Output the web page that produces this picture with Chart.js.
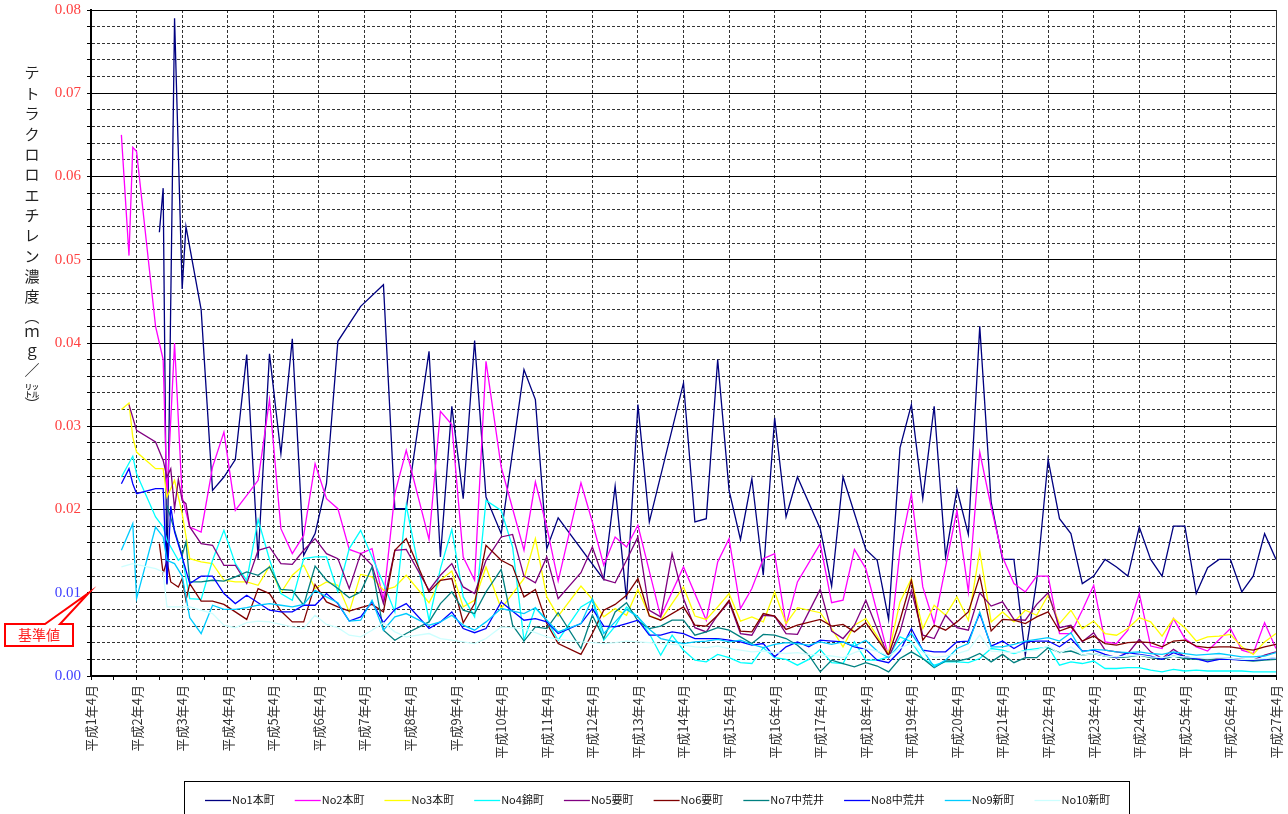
<!DOCTYPE html>
<html lang="ja">
<head>
<meta charset="utf-8">
<title>テトラクロロエチレン濃度の推移</title>
<script src="https://cdn.jsdelivr.net/npm/chart.js@4.4.1/dist/chart.umd.min.js"></script>
<style>
  html, body { margin: 0; padding: 0; background: #fff; }
  #wrap { width: 1288px; height: 814px; }
</style>
</head>
<body>
<div id="wrap"><canvas id="chart" width="1288" height="814"></canvas></div>
<script>
// sampling dates, in months counted from 平成1年4月
const sampleMonths = [
  8, 10, 11, 12, 17, 18, 19, 20, 21, 22, 23, 24, 25,
  26, 29, 32, 35, 38, 41, 44, 47, 50, 53, 56, 59, 62, 65, 68, 71, 74, 77, 80, 83, 86, 89, 92, 95, 98, 101, 104,
  108, 111, 114, 117, 120, 123, 126, 129, 132, 135, 138, 141, 144, 147, 150, 153, 156, 159, 162, 165, 168,
  171, 174, 177, 180, 183, 186, 189, 192, 195, 198, 201, 204, 207, 210, 213, 216, 219, 222, 225, 228, 231,
  234, 237, 240, 243, 246, 249, 252, 255, 258, 261, 264, 267, 270, 273, 276, 279, 282, 285, 288, 291, 294,
  297, 300, 303, 306, 309, 312
];

// mg/L per well, aligned with sampleMonths (null = not sampled)
const no1 = [
  null, null, null, null, null, 0.0533, 0.0586, 0.011, null, 0.079, null, 0.0465, 0.054,
  null, 0.044, 0.0223, 0.0239, 0.026, 0.0386, 0.0141, 0.0387, 0.0267, 0.0405, 0.0145, 0.0171, 0.0231, 0.0402, null,
  0.0444, null, 0.047, 0.0201, 0.0201, null, 0.039, 0.0143, 0.0324, 0.0213, 0.0403, 0.0215,
  0.0171, null, 0.0368, 0.0332, 0.0153, 0.019, null, null, null, 0.0116, 0.0228, 0.0092, 0.0326, 0.0185, null,
  null, 0.0352, 0.0185, 0.0189, 0.038, 0.0223, 0.0164, 0.0237, 0.0121, 0.031, 0.0191, 0.0239, null, 0.0177,
  0.0108, 0.0239, null, 0.0152, 0.0139, 0.0068, 0.0274, 0.0326, 0.0213, 0.0324, 0.0143, 0.0224, 0.017, 0.042,
  0.0209, 0.014, 0.014, 0.0025, 0.0115, 0.026, 0.0189, 0.0171, 0.0111, 0.012, 0.014, 0.0131, 0.012, 0.0179,
  0.014, 0.012, 0.018, 0.018, 0.0099, 0.013, 0.014, 0.014, 0.0101, 0.012, 0.0171, 0.014
];
const no2 = [
  0.065, 0.0505, 0.0635, 0.063, 0.042, 0.040, 0.038, 0.0215, null, 0.040, null, 0.0215, null,
  0.0179, 0.0173, 0.0251, 0.0293, 0.0199, null, 0.0235, 0.0332, 0.0177, 0.0147, 0.0169, 0.0255, 0.0213, 0.0201,
  0.0152, 0.0147, 0.0153, 0.0091, 0.0219, 0.0271, null, 0.0164, 0.0318, 0.0302, 0.0143, 0.0115, 0.0378,
  0.0251, null, 0.0151, 0.0233, 0.0179, 0.0114, null, 0.0232, 0.0185, 0.0133, 0.0167, 0.0155, 0.0181, null,
  0.0071, null, 0.0131, null, 0.0067, 0.0137, 0.0165, 0.0081, 0.0105, 0.0141, 0.0147, 0.0061, 0.0113, null,
  0.0159, 0.0088, 0.0091, 0.0152, 0.0129, null, 0.0023, 0.0151, 0.0219, 0.0107, 0.0063, 0.0131, 0.0199, 0.0101,
  0.0269, 0.0203, 0.0143, 0.0111, 0.0101, 0.012, 0.012, 0.0051, 0.0051, 0.0079, 0.0109, 0.0041, 0.0039, 0.0055,
  0.0099, 0.0036, 0.0033, 0.0069, 0.0045, 0.0035, 0.003, null, 0.0057, 0.0031, 0.0027, 0.0064, 0.0033
];
const no3 = [
  0.032, 0.0328, 0.0287, 0.0269, 0.0249, null, 0.0249, 0.0215, null, 0.0235, null, 0.0195, null,
  0.0141, 0.0137, 0.0135, 0.0115, 0.0113, 0.0113, 0.0109, 0.0132, 0.01, 0.0121, 0.0133, 0.0105, 0.0113, 0.0109,
  0.0077, 0.0122, 0.0119, 0.0103, 0.0107, 0.0121, null, 0.0088, 0.0115, 0.0126, 0.0083, 0.0091, 0.0131,
  0.0081, null, 0.0117, 0.0165, 0.0095, 0.0072, null, 0.0108, 0.0092, 0.0071, 0.0081, 0.0073, 0.0104, 0.0073,
  0.0067, null, 0.0107, 0.0072, 0.0068, 0.0083, 0.0099, 0.0066, 0.0071, 0.0065, 0.0101, 0.0063, 0.0082, null,
  0.0076, 0.0057, 0.0035, 0.0061, 0.0069, null, 0.0027, 0.0089, 0.0117, 0.0057, 0.0085, 0.0073, 0.0095, 0.0067,
  0.015, 0.0065, 0.0077, 0.0065, 0.0079, 0.0073, 0.0097, 0.0063, 0.0079, 0.0057, 0.0066, 0.0051, 0.0049, 0.0057,
  0.007, 0.0065, 0.0048, 0.0069, 0.0058, 0.0042, 0.0047, 0.0048, 0.005, 0.0035, 0.0026, 0.0041, 0.0051
];
const no4 = [
  0.0239, null, 0.0264, 0.0243, 0.0191, null, 0.0179, 0.0163, null, null, 0.0139, 0.0143, null,
  0.0093, 0.0092, 0.0139, 0.0175, 0.0135, 0.0115, 0.0188, 0.014, 0.0099, 0.0091, 0.0141, 0.0143, 0.0143, 0.0101,
  0.0153, 0.0175, 0.0143, 0.0111, 0.0077, 0.0205, null, 0.0067, 0.0129, 0.0176, 0.0095, 0.0071, 0.0211,
  0.0199, 0.0155, 0.0043, 0.0082, 0.0067, 0.0043, null, 0.0083, 0.0091, 0.0043, 0.006, 0.0083, 0.0071, 0.0051,
  0.0025, 0.0049, 0.0031, 0.0019, 0.0017, 0.0026, 0.0022, 0.0016, 0.0015, 0.0034, 0.0022, 0.002, 0.0013, 0.002,
  0.0032, 0.0016, 0.0015, 0.0041, 0.0019, 0.0019, 0.0023, 0.0047, 0.0041, 0.0021, 0.0013, 0.0017, 0.0017, 0.0016,
  0.0021, 0.0033, 0.0031, 0.0027, 0.0031, 0.0033, 0.0035, 0.0013, 0.0017, 0.0015, 0.0018, 0.0009, 0.0009, 0.001,
  0.001, 0.0007, 0.0005, 0.0008, 0.0006, 0.0007, 0.0006, 0.0006, 0.0006, 0.0006, 0.0005, 0.0005, 0.0005
];
const no5 = [
  null, 0.0326, null, 0.0295, 0.0281, null, 0.0259, 0.0239, 0.0249, 0.0201, 0.0236, 0.0211, 0.0207,
  0.0179, 0.0159, 0.0157, 0.0133, 0.0133, 0.0111, 0.0151, 0.0155, 0.0135, 0.0134, 0.0151, 0.0165, 0.0147, 0.0141,
  0.0105, 0.0147, 0.0133, 0.0087, 0.0151, 0.0152, null, 0.0103, 0.0121, 0.0135, 0.0107, 0.0099, 0.0139,
  0.0167, 0.017, 0.012, 0.0112, 0.0143, 0.0093, null, 0.0124, 0.0155, 0.0116, 0.0112, 0.0139, 0.0167, 0.0079,
  0.0071, 0.0147, 0.0093, 0.0058, 0.0053, 0.0073, 0.0089, 0.0051, 0.0049, 0.0073, 0.0072, 0.0051, 0.005, null,
  0.0104, 0.0054, 0.0045, 0.0061, 0.0091, null, 0.0022, 0.0053, 0.0103, 0.0049, 0.0045, 0.0073, 0.0058, 0.0055,
  0.01, 0.0084, 0.0089, 0.0068, 0.0067, 0.0086, 0.01, 0.0058, 0.0061, 0.0041, 0.0052, 0.0031, 0.0029, 0.0027,
  0.0044, 0.0029, 0.0021, 0.0032, 0.0023, 0.0021, 0.002, 0.0021, 0.0021, 0.002, 0.0019, 0.0025, 0.0029
];
const no6 = [
  null, null, null, null, null, 0.0159, 0.0123, 0.0139, 0.0113, null, 0.0107, 0.0117, 0.0091,
  0.0111, 0.009, 0.009, 0.0086, 0.0077, 0.0068, 0.0105, 0.0099, 0.0078, 0.0065, 0.0065, 0.011, 0.0089, 0.0083,
  0.0078, 0.0082, 0.0086, 0.0077, 0.0151, 0.0165, null, 0.0101, 0.0115, 0.0117, 0.0064, 0.0087, 0.0157,
  0.0139, 0.0132, 0.0095, 0.0104, 0.0063, 0.0039, null, 0.0026, 0.0051, 0.0079, 0.0086, 0.0097, 0.0117, 0.0072,
  0.0067, null, 0.0083, 0.0061, 0.006, 0.0073, 0.0091, 0.0054, 0.0053, 0.0075, 0.0072, 0.0056, 0.0061, null,
  0.0068, 0.006, 0.0062, 0.0053, 0.0064, null, 0.0025, 0.0067, 0.0115, 0.0043, 0.0061, 0.0055, 0.0065, 0.0077,
  0.012, 0.0054, 0.0068, 0.0067, 0.0063, 0.0071, 0.0077, 0.0054, 0.0059, 0.0042, 0.0048, 0.0039, 0.0037, 0.004,
  0.0041, 0.004, 0.0035, 0.0042, 0.0043, 0.0036, 0.0034, 0.0035, 0.0035, 0.0033, 0.0031, 0.0035, 0.0038
];
const no7 = [
  null, null, null, null, null, null, null, 0.0205, null, null, null, 0.0145, 0.0161,
  0.0113, 0.0113, 0.0115, 0.0114, 0.0119, 0.0125, 0.0121, 0.0131, 0.0104, 0.0103, 0.0085, 0.0132, 0.0115, 0.0105,
  0.0094, 0.0101, 0.0131, 0.0055, 0.0043, 0.0051, null, 0.0065, 0.0087, 0.0101, 0.0079, 0.0075, 0.0101,
  0.0128, 0.0061, 0.0042, 0.0059, 0.0057, 0.0076, null, 0.0033, 0.0073, 0.0045, 0.0077, 0.0088, 0.0066, 0.0057,
  0.006, 0.0067, 0.0067, 0.0049, 0.0053, 0.0058, 0.0055, 0.0047, 0.0039, 0.005, 0.0049, 0.0045, 0.0037, 0.0025,
  0.0005, 0.0019, 0.0015, 0.0011, 0.0016, 0.0012, 0.0005, 0.0021, 0.0029, 0.0021, 0.001, 0.0018, 0.0018, 0.0021,
  0.0027, 0.0017, 0.0026, 0.0016, 0.0022, 0.0022, 0.0034, 0.0028, 0.003, 0.0025, 0.0027, 0.0024, 0.0022, 0.0023,
  0.0025, 0.0022, 0.002, 0.0024, 0.0021, 0.002, 0.0019, 0.002, 0.0021, 0.0019, 0.0018, 0.0019, 0.002
];
const no8 = [
  0.0231, 0.0249, 0.0231, 0.0219, 0.0225, null, 0.0225, 0.0111, 0.0204, 0.0173, null, 0.0143, null,
  0.0111, 0.012, 0.012, 0.0099, 0.0087, 0.0097, 0.0088, 0.0079, 0.0077, 0.0077, 0.0085, 0.0085, 0.0099, 0.0087,
  0.0066, 0.0071, 0.0089, 0.0064, 0.008, 0.0087, null, 0.0057, 0.0065, 0.0077, 0.0057, 0.0052, 0.0057,
  0.0089, null, 0.0067, 0.0069, 0.0065, 0.0051, null, 0.0063, 0.0081, 0.006, 0.0059, 0.0063, 0.0067, 0.0049,
  0.0049, 0.0053, 0.0051, 0.0045, 0.0045, 0.0045, 0.0043, 0.0041, 0.0037, 0.0039, 0.0023, 0.0035, 0.0041, 0.0035,
  0.0043, 0.0042, 0.0041, 0.0035, 0.0032, 0.0019, 0.0016, 0.003, 0.0057, 0.0031, 0.0029, 0.0029, 0.0041, 0.0042,
  0.0075, 0.0036, 0.0042, 0.0033, 0.0041, 0.0042, 0.0042, 0.0035, 0.0045, 0.003, 0.0031, 0.0026, 0.0022, 0.0028,
  0.0026, 0.0024, 0.002, 0.0028, 0.0023, 0.0021, 0.0017, 0.002, 0.002, 0.0019, 0.0019, 0.002, 0.0022
];
const no9 = [
  0.0151, null, 0.0183, 0.0093, 0.0179, null, 0.0167, 0.0139, null, 0.0135, null, 0.012, null,
  0.007, 0.0051, 0.0085, 0.008, 0.008, 0.0082, 0.0085, 0.0087, 0.0085, 0.0083, 0.0086, 0.0103, 0.0095, 0.0088,
  0.0066, 0.0067, 0.0091, 0.0055, 0.0071, 0.0075, null, 0.0061, 0.0065, 0.0073, 0.0061, 0.0055, 0.0065,
  0.0081, null, 0.0075, 0.0082, 0.0067, 0.0053, null, 0.0063, 0.0093, 0.0051, 0.0065, 0.008, 0.0071, 0.0056,
  0.0045, 0.0042, 0.0039, 0.0041, 0.0042, 0.0044, 0.0041, 0.0043, 0.0038, 0.0034, 0.0038, 0.004, 0.0039, 0.0037,
  0.0041, 0.0038, 0.0041, 0.0036, 0.0043, 0.003, 0.0022, 0.0038, 0.0051, 0.0031, 0.0011, 0.0019, 0.0033, 0.0039,
  0.0077, 0.0035, 0.0035, 0.0038, 0.0042, 0.0044, 0.0046, 0.0042, 0.0052, 0.0029, 0.0032, 0.0031, 0.0029, 0.0028,
  0.0029, 0.0027, 0.0026, 0.0029, 0.0027, 0.0025, 0.0026, 0.0027, 0.0025, 0.0023, 0.0023, 0.0024, 0.0028
];
const no10 = [
  0.0131, null, 0.0135, null, 0.0129, null, 0.0125, 0.0083, null, null, null, null, null,
  0.0083, 0.0079, 0.0075, 0.0061, 0.0058, 0.0064, 0.0066, 0.0065, 0.0062, 0.0059, 0.0057, 0.0073, 0.0062, 0.0058,
  0.0049, 0.0047, 0.0055, 0.0064, 0.0053, 0.0047, null, 0.0051, 0.0045, 0.0043, 0.0041, 0.0039, 0.0045,
  0.0059, null, 0.0057, 0.0052, 0.0047, 0.0044, null, 0.0041, 0.004, 0.0039, 0.004, 0.0042, 0.0041, 0.004,
  0.0039, 0.0038, 0.0037, 0.0035, 0.0034, 0.0036, 0.0033, 0.0031, 0.0029, 0.003, 0.0028, 0.0027, 0.0028, 0.0026,
  0.0025, 0.0024, 0.0022, 0.0028, 0.0033, 0.003, 0.0024, 0.0033, 0.004, 0.0028, 0.0022, 0.0024, 0.0027, 0.0031,
  0.0049, 0.003, 0.0029, 0.0028, 0.003, 0.0031, 0.0036, 0.0027, 0.0035, 0.0025, 0.0027, 0.0024, 0.0023, 0.0024,
  0.0025, 0.0023, 0.0022, 0.0024, 0.0023, 0.0022, 0.0021, 0.0022, 0.0021, 0.002, 0.002, 0.0021, 0.0022
];

const seriesNames = ['No1本町', 'No2本町', 'No3本町', 'No4錦町', 'No5要町', 'No6要町', 'No7中荒井', 'No8中荒井', 'No9新町', 'No10新町'];
const seriesColors = ['#000080', '#ff00ff', '#ffff00', '#00ffff', '#800080', '#800000', '#008080', '#0000ff', '#00ccff', '#ccffff'];
const seriesValues = [no1, no2, no3, no4, no5, no6, no7, no8, no9, no10];

const yearLabels = [
  '平成1年4月', '平成2年4月', '平成3年4月', '平成4年4月', '平成5年4月', '平成6年4月', '平成7年4月',
  '平成8年4月', '平成9年4月', '平成10年4月', '平成11年4月', '平成12年4月', '平成13年4月', '平成14年4月',
  '平成15年4月', '平成16年4月', '平成17年4月', '平成18年4月', '平成19年4月', '平成20年4月', '平成21年4月',
  '平成22年4月', '平成23年4月', '平成24年4月', '平成25年4月', '平成26年4月', '平成27年4月'
];
const yTickLabels = ['0.00', '0.01', '0.02', '0.03', '0.04', '0.05', '0.06', '0.07', '0.08'];
const standardValue = 0.01;

const isMajorY = v => Math.round(v * 500) % 5 === 0;

// vertical axis title, one glyph per row
const axisTitle = {
  id: 'axisTitle',
  afterDraw(chart) {
    const ctx = chart.ctx;
    const chars = ['テ', 'ト', 'ラ', 'ク', 'ロ', 'ロ', 'エ', 'チ', 'レ', 'ン', '濃', '度', '︵', 'ｍ', 'ｇ', '／', '㍑', '︶'];
    const rows = [72, 93, 113, 134, 154, 174, 195, 215, 235, 256, 276, 296, 316, 331, 350, 370, 390, 404];
    ctx.save();
    ctx.font = '15px "Noto Sans CJK JP"';
    ctx.fillStyle = '#222';
    ctx.textAlign = 'center';
    ctx.textBaseline = 'middle';
    chars.forEach((c, i) => ctx.fillText(c, 32, rows[i]));
    ctx.restore();
  }
};

// 基準値 callout pointing at the standard line
const standardCallout = {
  id: 'standardCallout',
  afterDraw(chart) {
    const ctx = chart.ctx;
    const tipX = chart.chartArea.left - 2;
    const tipY = chart.scales.y.getPixelForValue(standardValue);
    ctx.save();
    ctx.beginPath();
    ctx.moveTo(5, 624);
    ctx.lineTo(45, 624);
    ctx.lineTo(tipX, tipY);
    ctx.lineTo(60, 624);
    ctx.lineTo(73, 624);
    ctx.lineTo(73, 646);
    ctx.lineTo(5, 646);
    ctx.closePath();
    ctx.fillStyle = '#fff';
    ctx.fill();
    ctx.strokeStyle = '#ff0000';
    ctx.lineWidth = 2;
    ctx.lineJoin = 'miter';
    ctx.stroke();
    ctx.font = '14px "Noto Sans CJK JP"';
    ctx.fillStyle = '#ff2020';
    ctx.textAlign = 'center';
    ctx.textBaseline = 'middle';
    ctx.fillText('基準値', 39, 635);
    ctx.restore();
  }
};

// boxed legend row under the axis labels
const legendBox = {
  id: 'legendBox',
  afterDraw(chart) {
    const ctx = chart.ctx;
    ctx.save();
    ctx.strokeStyle = '#000';
    ctx.lineWidth = 1;
    ctx.strokeRect(184.5, 781.5, 945, 40);
    ctx.font = '11px "Noto Sans CJK JP"';
    ctx.textBaseline = 'middle';
    let x = 205;
    chart.data.datasets.forEach(ds => {
      ctx.strokeStyle = ds.borderColor;
      ctx.lineWidth = 1.3;
      ctx.beginPath();
      ctx.moveTo(x, 800.5);
      ctx.lineTo(x + 26, 800.5);
      ctx.stroke();
      ctx.fillStyle = '#111';
      ctx.fillText(ds.label, x + 27, 800);
      x += 27 + ctx.measureText(ds.label).width + 20;
    });
    ctx.restore();
  }
};

const datasets = seriesValues.map((vals, i) => ({
  label: seriesNames[i],
  data: sampleMonths.map((m, j) => ({ x: m, y: vals[j] })),
  borderColor: seriesColors[i],
  backgroundColor: seriesColors[i],
  borderWidth: 1.3,
  pointRadius: 0,
  tension: 0,
  spanGaps: true,
  order: seriesValues.length - i
}));

new Chart(document.getElementById('chart'), {
  type: 'line',
  data: { datasets },
  options: {
    responsive: false,
    animation: false,
    devicePixelRatio: 1,
    layout: { padding: { top: 10, right: 12, left: 0, bottom: 0 } },
    plugins: {
      legend: { display: false },
      tooltip: { enabled: false },
      title: { display: false }
    },
    scales: {
      x: {
        type: 'linear',
        min: 0,
        max: 312,
        afterFit(scale) {
          scale.height = 138;
          scale.paddingLeft = 0;
          scale.paddingRight = 0;
        },
        ticks: {
          stepSize: 6,
          autoSkip: false,
          minRotation: 90,
          maxRotation: 90,
          padding: 5,
          color: '#333',
          font: { family: '"Noto Sans CJK JP"', size: 13 },
          callback: v => (v % 12 === 0 ? yearLabels[v / 12] : '')
        },
        grid: {
          color: c => (c.tick && c.tick.value % 12 !== 0 ? 'rgba(0,0,0,0)' : '#333'),
          lineWidth: 1,
          tickColor: '#000',
          tickLength: 4
        },
        border: {
          color: '#000',
          width: 2,
          dash: c => (c.tick && c.tick.value !== 312 ? [3, 2] : [])
        }
      },
      y: {
        min: 0,
        max: 0.08,
        afterFit(scale) {
          scale.width = 91;
          scale.paddingTop = 0;
          scale.paddingBottom = 0;
        },
        ticks: {
          stepSize: 0.002,
          autoSkip: false,
          padding: 6,
          font: { family: '"Liberation Serif"', size: 15 },
          color: c => (c.tick.value < 0.015 ? '#4040ff' : '#ff4040'),
          callback: v => (isMajorY(v) ? yTickLabels[Math.round(v * 100)] : '')
        },
        grid: {
          color: c => (c.tick && !isMajorY(c.tick.value) ? '#333' : '#000'),
          lineWidth: 1,
          tickColor: '#000',
          tickLength: 4
        },
        border: {
          color: '#000',
          width: 2,
          dash: c => (c.tick && !isMajorY(c.tick.value) ? [3, 2] : [])
        }
      }
    }
  },
  plugins: [axisTitle, standardCallout, legendBox]
});
</script>
</body>
</html>
